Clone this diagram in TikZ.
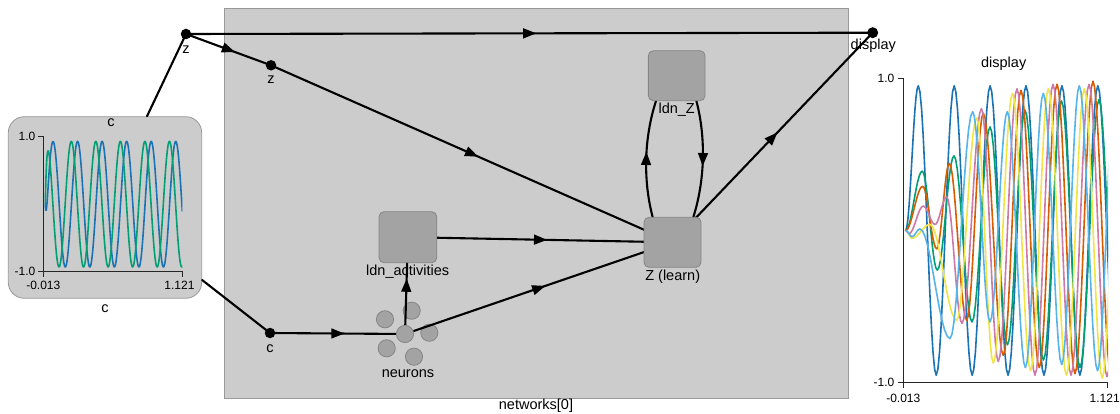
\documentclass[tikz,border=0pt]{standalone}
\usepackage{fontspec}
\setmainfont{Liberation Sans}
\usetikzlibrary{arrows.meta,decorations.markings,calc}

\definecolor{netfill}{HTML}{CCCCCC}
\definecolor{netline}{HTML}{999999}
\definecolor{objfill}{HTML}{A3A3A3}
\definecolor{objline}{HTML}{858585}
\definecolor{trA}{HTML}{1C73B3}
\definecolor{trB}{HTML}{039F74}
\definecolor{trC}{HTML}{D65E00}
\definecolor{trD}{HTML}{CD79A7}
\definecolor{trE}{HTML}{F0E542}
\definecolor{trF}{HTML}{56B4EA}

\pgfdeclarelayer{netlayer}
\pgfdeclarelayer{edgelayer}
\pgfsetlayers{netlayer,edgelayer,main}

% A probe trace: half-cosine arcs joining successive extrema (x/value pairs)
\newcommand\sigtrace[3]{%
  \foreach \xb/\vb [remember=\xb as \xa (initially #2), remember=\vb as \va (initially 0)] in {#3}{%
    \draw[trace,#1] plot[domain=0:1, samples=12, variable=\t]
      ({\xa+(\xb-\xa)*\t}, {\va+(\vb-\va)*(1-cos(180*\t))/2});
  }%
}

\tikzset{
  lbl/.style={font=\fontsize{14.5}{17}\selectfont, text=black, inner sep=0pt},
  ticklbl/.style={font=\fontsize{12}{14}\selectfont, text=black, inner sep=0pt},
  obj/.style={draw=objline, fill=objfill, rounded corners=5pt, line width=0.8pt, inner sep=0pt},
  pt/.style={circle, fill=black, inner sep=0pt, minimum size=10.5pt},
  nrn/.style={circle, draw=objline, fill=objfill, line width=0.8pt, inner sep=0pt, minimum size=17.2pt},
  conn/.style={line width=2.1pt, line cap=round},
  mid/.style={postaction=decorate, decoration={markings, mark=at position 0.5 with
      {\fill (6.8pt,0pt) -- (-6.2pt,5.2pt) -- (-6.2pt,-5.2pt) -- cycle;}}},
  trace/.style={line width=1.6pt, line cap=round, line join=round},
  axisline/.style={line width=0.9pt, draw=black!85},
}

\begin{document}
\begin{tikzpicture}[x=1pt, y=-1pt]
\useasboundingbox (0,0) rectangle (1120,414);

% ---------- containers ----------
\begin{pgfonlayer}{netlayer}
  \fill[white] (0,0) rectangle (1120,414);
  \node[draw=netline, fill=netfill, line width=0.8pt, inner sep=0pt,
        minimum width=624.3pt, minimum height=389.7pt] (net) at (536.2,203.2) {};
  \node[draw=netline, fill=netfill, line width=0.8pt, inner sep=0pt, rounded corners=16pt,
        minimum width=193.4pt, minimum height=181.6pt] (cplot) at (105,207.5) {};
  % ensemble icon: outer circles
  \node[nrn] (n1) at (411.7,310.7) {};
  \node[nrn] (n2) at (385,319.3) {};
  \node[nrn] (n3) at (429.3,332.7) {};
  \node[nrn] (n4) at (386.7,348.3) {};
  \node[nrn] (n5) at (414,356.7) {};
\end{pgfonlayer}

% ---------- objects ----------
\node[pt] (z1) at (186,34) {};
\node[pt] (z2) at (271,65.3) {};
\node[pt, minimum size=11pt] (disp) at (872.7,32.7) {};
\node[pt] (cdot) at (270,333) {};
\node[nrn] (nrn) at (405,334) {};
\node[obj, minimum width=57.7pt, minimum height=51pt] (lact) at (407.9,237.2) {};
\node[obj, minimum width=57pt, minimum height=50pt] (zl) at (672.5,242.3) {};
\node[obj, minimum width=56.7pt, minimum height=50pt] (ldnz) at (676.7,75.7) {};

% ---------- labels ----------
\node[lbl] (cttl) at (111,122.7) {c};
\node[lbl] (cname) at (105,308.3) {c};
\node[lbl] (z1lab) at (186,49.7) {z};
\node[lbl] (z2lab) at (271,80) {z};
\node[lbl] (displab) at (873.3,45.5) {display};
\node[lbl] (clab) at (270,349) {c};
\node[lbl] (nrnlab) at (408,374) {neurons};
\node[lbl] (lactlab) at (407.7,271.2) {ldn\_activities};
\node[lbl] (ldnzlab) at (676.7,110) {ldn\_Z};
\node[lbl] (zllab) at (672.7,276.7) {Z (learn)};
\node[lbl] (netlab) at (536,406) {networks[0]};
\node[lbl] (dttl) at (1003.7,63.3) {display};

% ---------- connections ----------
\begin{pgfonlayer}{edgelayer}
  \draw[conn] ([xshift=42pt]cplot.north) -- (z1.center);
  \draw[conn] ([yshift=-72.5pt]cplot.east) -- (cdot.center);
  \draw[conn,mid] (z1.center) -- (disp.center);
  \draw[conn,mid] (z1.center) -- (z2.center);
  \draw[conn,mid] (z2.center) -- (zl.center);
  \draw[conn,mid] (lact.center) -- (zl.center);
  \draw[conn,mid] (nrn.center) -- (zl.center);
  \draw[conn,mid] (cdot.center) -- (nrn.center);
  \draw[conn,mid] (nrn.center) -- (lact.center);
  \draw[conn,mid] (zl.center) -- (disp.center);
  \draw[conn,mid] ([xshift=9pt]zl.north west) .. controls (643,180) and (644,138) .. ([xshift=8pt]ldnz.south west);
  \draw[conn,mid] ([xshift=-9pt]ldnz.south east) .. controls (706,138) and (705,180) .. ([xshift=-8pt]zl.north east);
\end{pgfonlayer}

% ---------- plot of c ----------
\draw[axisline] (38.3,136.7) -- (43.3,136.7) -- (43.3,271.7) -- (182.3,271.7) -- (182.3,276.7);
\draw[axisline] (38.3,271.7) -- (43.3,271.7) -- (43.3,276.7);
\node[ticklbl, anchor=east] (cy1) at (35.5,136.7) {1.0};
\node[ticklbl, anchor=east] (cy0) at (35.5,271.7) {-1.0};
\node[ticklbl] (cx0) at (43.3,285) {-0.013};
\node[ticklbl] (cx1) at (179.5,285) {1.121};
\begin{scope}[shift={(0,204.2)}, y={(0pt,67.5pt)}]
  \clip (43.3,-1.2) rectangle (182.3,1.2);
  % 14.6699 = 360 / 24.54 (degrees per unit of x)
  \draw[trace,trA] plot[domain=45.3:182.3, samples=500, variable=\x]
    (\x, {0.93*sin(14.6699*(\x-46.9))*(1-exp(max(-9,-(\x-45.3)/1.2)))});
  \draw[trace,trB] plot[domain=45.3:182.3, samples=500, variable=\x]
    (\x, {0.93*cos(14.6699*(\x-71.3))*(1-exp(max(-9,-(\x-45.3)/1.2)))});
\end{scope}

% ---------- plot of display ----------
\draw[axisline] (898.3,78.3) -- (903.3,78.3) -- (903.3,382.7) -- (1107.3,382.7) -- (1107.3,387.7);
\draw[axisline] (898.3,382.7) -- (903.3,382.7) -- (903.3,387.7);
\node[ticklbl, anchor=east] (dy1) at (894.5,78.3) {1.0};
\node[ticklbl, anchor=east] (dy0) at (894.5,382.7) {-1.0};
\node[ticklbl] (dx0) at (903.3,398.3) {-0.013};
\node[ticklbl] (dx1) at (1104.7,398.3) {1.121};
\begin{scope}[shift={(0,230.5)}, y={(0pt,152.2pt)}]
  \clip (903.3,-1.3) rectangle (1108,1.3);
  \sigtrace{trA}{905.6}{918.3/0.95, 936.25/-0.95, 954.2/0.95, 972.15/-0.95, 990.1/0.95, 1008.05/-0.95, 1026/0.95, 1043.95/-0.95, 1061.9/0.95, 1079.85/-0.95, 1097.8/0.95, 1115.75/-0.95}
  \sigtrace{trB}{905.6}{922.3/0.39, 937.3/-0.26, 954/0.49, 972/-0.6, 990/0.68, 1007.5/-0.75, 1025/0.79, 1043.5/-0.85, 1061.5/0.85, 1080/-0.9, 1099/0.86, 1117/-0.9}
  \sigtrace{trC}{905.6}{922.7/0.29, 936.7/-0.12, 949.3/0.44, 966.7/-0.59, 983.3/0.77, 1003.3/-0.82, 1021/0.92, 1039.3/-0.9, 1057/0.96, 1075/-0.94, 1093/0.98, 1111/-0.95}
  \sigtrace{trD}{905.6}{909/-0.02, 923.3/0.16, 935/0.04, 946.7/0.22, 962/-0.61, 981.5/0.80, 998.3/-0.86, 1017/0.93, 1035/-0.95, 1053/0.96, 1071/-0.95, 1089/0.96, 1107/-0.96, 1125/0.96}
  \sigtrace{trE}{905.6}{912/-0.05, 930/0.04, 956.7/-0.59, 976.7/0.74, 993.3/-0.87, 1012.5/0.9, 1030.5/-0.92, 1048.4/0.93, 1066.4/-0.95, 1084.3/0.93, 1102.3/-0.97, 1120/0.95}
  \sigtrace{trF}{905.6}{912/-0.04, 920/0.01, 950/-0.71, 972.7/0.78, 990/-0.6, 1007.3/0.78, 1025.4/-0.9, 1043.3/0.9, 1061.7/-0.88, 1079.3/0.95, 1097.5/-0.92, 1115.2/0.95}
\end{scope}
\end{tikzpicture}
\end{document}
